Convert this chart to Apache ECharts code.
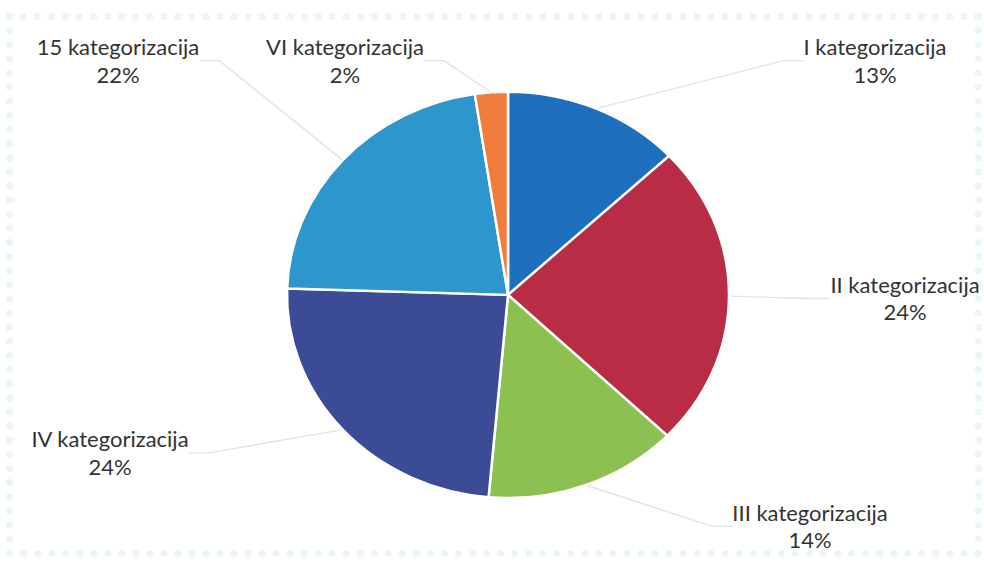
<!DOCTYPE html>
<html>
<head>
<meta charset="utf-8">
<script src="https://cdn.jsdelivr.net/npm/echarts@6/dist/echarts.min.js"></script>
<style>
html,body{margin:0;padding:0;background:#fff;width:984px;height:562px;overflow:hidden;}
#frame{position:absolute;left:6px;top:13px;width:962px;height:530px;border:7px dotted #e8f6f5;}
#chart{position:absolute;left:0;top:0;width:984px;height:612px;transform:scaleY(0.9186);transform-origin:0 0;}
</style>
</head>
<body>
<div id="frame"></div>
<div id="chart"></div>
<script>
// Data
const categories = ['I kategorizacija', 'II kategorizacija', 'III kategorizacija', 'IV kategorizacija', '15 kategorizacija', 'VI kategorizacija'];
const shares = [13.0, 24.2, 14.2, 24.1, 22.1, 2.4];

// Styling
const colors = ['#1f6fbf', '#b82d45', '#8cc050', '#3c4b96', '#2d97cd', '#ef7d3c'];
const labelPos = [[875, 66], [905, 325], [810, 573], [110, 493], [118, 66], [345, 66]];

const chart = echarts.init(document.getElementById('chart'), null, {renderer: 'svg'});
chart.setOption({
  animation: false,
  backgroundColor: 'transparent',
  series: [{
    type: 'pie',
    center: [508, 321],
    radius: 221,
    startAngle: 90,
    clockwise: true,
    data: categories.map((c, i) => ({name: c, value: shares[i], itemStyle: {color: colors[i]}})),
    itemStyle: {borderColor: '#fff', borderWidth: 2.5},
    label: {
      show: true,
      position: 'outside',
      fontFamily: 'Lato',
      fontSize: 22,
      color: '#333333',
      lineHeight: 30,
      align: 'center',
      formatter: p => p.name + '\n' + Math.round(p.percent) + '%'
    },
    labelLine: {show: true, lineStyle: {color: '#e3e3e3', width: 1.5}, length: 20, length2: 20},
    labelLayout: p => ({
      x: labelPos[p.dataIndex][0],
      y: labelPos[p.dataIndex][1],
      align: 'center',
      verticalAlign: 'middle'
    }),
    emphasis: {disabled: true}
  }]
});
</script>
</body>
</html>
